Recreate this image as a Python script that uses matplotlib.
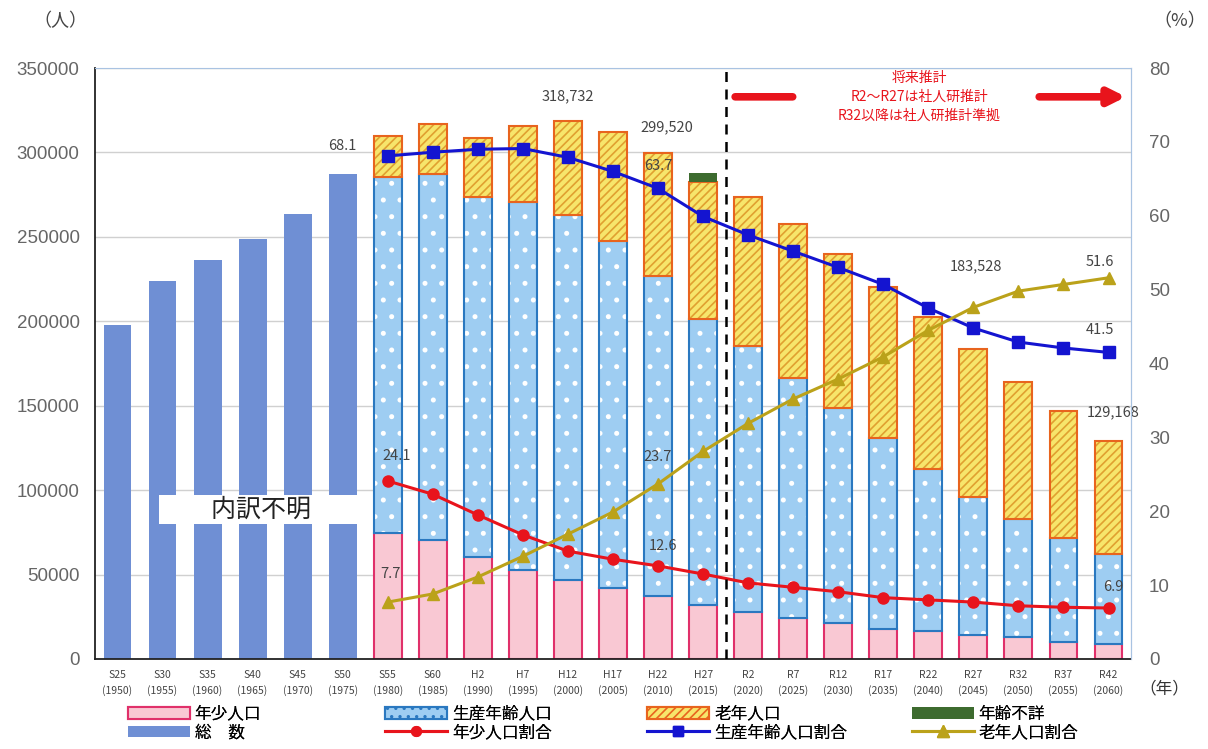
import numpy as np
import matplotlib.pyplot as plt
from matplotlib.lines import Line2D
from matplotlib.patches import Patch

plt.rcParams['font.family'] = ['Noto Sans CJK JP', 'DejaVu Sans']
plt.rcParams['hatch.linewidth'] = 1.2

# x categories
eras = ['S25', 'S30', 'S35', 'S40', 'S45', 'S50', 'S55', 'S60', 'H2', 'H7', 'H12',
        'H17', 'H22', 'H27', 'R2', 'R7', 'R12', 'R17', 'R22', 'R27', 'R32', 'R37', 'R42']
years = [1950, 1955, 1960, 1965, 1970, 1975, 1980, 1985, 1990, 1995, 2000,
         2005, 2010, 2015, 2020, 2025, 2030, 2035, 2040, 2045, 2050, 2055, 2060]

# total only (S25 - S50, breakdown unknown)
total_early = [198000, 223800, 236300, 248700, 263500, 287200]

# breakdown S55 - R42
youth = [74600, 70600, 60100, 52600, 46600, 42100, 37500, 31700, 27700,
         24300, 21300, 17800, 16600, 14200, 13000, 10100, 8900]
working = [211000, 216800, 213300, 218000, 216400, 205500, 189600, 169800, 157800,
           142100, 127300, 113100, 95900, 81700, 69900, 61600, 53300]
elderly = [24000, 29600, 34900, 45000, 55700, 64400, 72400, 81200, 88100,
           91200, 91200, 89400, 90000, 87600, 81100, 75200, 67000]
unknown = [0, 0, 0, 0, 0, 0, 0, 5300, 0, 0, 0, 0, 0, 0, 0, 0, 0]

# ratios (%)
youth_pct = [24.1, 22.3, 19.5, 16.8, 14.6, 13.5, 12.6, 11.5, 10.3,
             9.7, 9.1, 8.3, 8.0, 7.7, 7.2, 7.0, 6.9]
working_pct = [68.1, 68.6, 69.0, 69.1, 67.9, 66.0, 63.7, 59.9, 57.4,
               55.2, 53.0, 50.7, 47.5, 44.8, 42.9, 42.1, 41.5]
elderly_pct = [7.7, 8.8, 11.1, 13.9, 16.9, 19.9, 23.7, 28.1, 31.9,
               35.2, 37.9, 40.9, 44.5, 47.6, 49.8, 50.7, 51.6]

x = np.arange(len(eras))
x_early = x[:len(total_early)]
x_br = x[len(total_early):]
youth = np.array(youth)
working = np.array(working)
elderly = np.array(elderly)
unknown = np.array(unknown)

c_total = '#6f8fd4'
c_youth, e_youth = '#f9c8d3', '#e0306a'
c_work, e_work = '#9ecdf2', '#2a78c0'
c_eld, e_eld = '#f7e56b', '#e8641e'
c_unk = '#3d6b2f'
tick_font = dict(family='Liberation Sans', size=13.5)

fig = plt.figure(figsize=(12.08, 7.49), dpi=100)
ax = fig.add_axes([0.0786, 0.1202, 0.8577, 0.789])
w = 0.62

ax.bar(x_early, total_early, width=w, color=c_total, zorder=2)
ax.bar(x_br, youth, width=w, color=c_youth, edgecolor=e_youth, linewidth=1.5, zorder=2)
# working: white dotted hatch, then blue outline
ax.bar(x_br, working, bottom=youth, width=w, color=c_work, edgecolor='white',
       hatch='.', linewidth=0, zorder=2)
ax.bar(x_br, working, bottom=youth, width=w, fill=False, edgecolor=e_work,
       linewidth=1.5, zorder=2)
ax.bar(x_br, elderly, bottom=youth + working, width=w, color=c_eld, edgecolor='#e0a030',
       hatch='////', linewidth=0, zorder=2)
ax.bar(x_br, elderly, bottom=youth + working, width=w, fill=False, edgecolor=e_eld,
       linewidth=1.5, zorder=2)
ax.bar(x_br, unknown, bottom=youth + working + elderly, width=w, color=c_unk, zorder=2)

ax.set_xlim(-0.5, len(eras) - 0.5)
ax.set_ylim(0, 350000)
ax.set_yticks(np.arange(0, 350001, 50000))
ax.yaxis.grid(True, color='#d0d0d0', linewidth=1)
ax.set_axisbelow(True)
ax.set_xticks(x)
ax.set_xticklabels([f'{e}\n({y})' for e, y in zip(eras, years)], fontsize=7.5,
                   color='#444444', linespacing=1.6)
ax.tick_params(axis='x', length=0, pad=8)
ax.tick_params(axis='y', length=0, pad=11, labelcolor='#666666')
for t in ax.get_yticklabels():
    t.set_fontproperties(tick_font)
for s in ['left', 'bottom']:
    ax.spines[s].set_color('#222222')
    ax.spines[s].set_linewidth(1.3)
ax.spines['top'].set_color('#a9c3e2')
ax.spines['right'].set_color('#a9c3e2')

# ratio lines
ax2 = ax.twinx()
ax2.set_ylim(0, 80)
ax2.set_yticks(np.arange(0, 81, 10))
ax2.tick_params(axis='y', length=0, pad=13, labelcolor='#666666')
for t in ax2.get_yticklabels():
    t.set_fontproperties(tick_font)
for s in ax2.spines.values():
    s.set_visible(False)
ax2.spines['right'].set_visible(True)
ax2.spines['right'].set_color('#a9c3e2')

ax2.plot(x_br, youth_pct, color='#e8141c', marker='o', markersize=8, linewidth=2.2, zorder=4)
ax2.plot(x_br, working_pct, color='#1414d0', marker='s', markersize=8, linewidth=2.2, zorder=4)
ax2.plot(x_br, elderly_pct, color='#bba21a', marker='^', markersize=9, linewidth=2.2, zorder=4)

# projection separator
ax2.axvline(13.5, color='black', linestyle=(0, (4, 3)), linewidth=1.8, zorder=5)

# projection note
ax2.annotate('', xy=(15.05, 76.1), xytext=(13.65, 76.1),
             arrowprops=dict(arrowstyle='-', color='#e8141c', lw=5.5))
ax2.annotate('', xy=(22.45, 76.1), xytext=(20.4, 76.1),
             arrowprops=dict(arrowstyle='-|>', color='#e8141c', lw=5.5, mutation_scale=24))
ax2.text(17.8, 76.1, '将来推計\nR2～R27は社人研推計\nR32以降は社人研推計準拠', color='#e8141c',
         fontsize=10, ha='center', va='center', linespacing=1.45)

# value labels
lab = dict(fontsize=10.5, color='#444444', ha='center', va='center', zorder=6)
ax.text(10, 333000, '318,732', **lab)
ax.text(12.2, 315000, '299,520', **lab)
ax.text(19.05, 232500, '183,528', **lab)
ax.text(22.1, 146000, '129,168', **lab)
ax2.text(5.0, 69.5, '68.1', **lab)
ax2.text(12.0, 66.8, '63.7', **lab)
ax2.text(6.2, 27.5, '24.1', **lab)
ax2.text(12.0, 27.3, '23.7', **lab)
ax2.text(12.1, 15.3, '12.6', **lab)
ax2.text(6.05, 11.5, '7.7', **lab)
ax2.text(21.8, 53.7, '51.6', **lab)
ax2.text(21.8, 44.5, '41.5', **lab)
ax2.text(22.1, 9.8, '6.9', **lab)

ax.text(3.18, 88500, '\u3000\u3000内訳不明\u3000\u3000', fontsize=18, ha='center', va='center',
        zorder=6, color='#222222',
        bbox=dict(facecolor='white', edgecolor='none', boxstyle='square,pad=0.05'))

fig.text(0.05, 0.972, '（人）', fontsize=13, color='#444444', ha='center', va='center')
fig.text(0.977, 0.972, '（%）', fontsize=13, color='#444444', ha='center', va='center')
fig.text(0.964, 0.080, '（年）', fontsize=12, color='#333333', ha='center', va='center')

# legend: four columns placed separately
leg_cols = [
    [Patch(facecolor=c_youth, edgecolor=e_youth, linewidth=1.5, label='年少人口'),
     Patch(facecolor=c_total, label='総　数')],
    [Patch(facecolor=c_work, edgecolor=e_work, hatch='..', linewidth=1.5, label='生産年齢人口'),
     Line2D([], [], color='#e8141c', marker='o', linewidth=2.2, markersize=7, label='年少人口割合')],
    [Patch(facecolor=c_eld, edgecolor=e_eld, hatch='////', linewidth=1.5, label='老年人口'),
     Line2D([], [], color='#1414d0', marker='s', linewidth=2.2, markersize=7, label='生産年齢人口割合')],
    [Patch(facecolor=c_unk, label='年齢不詳'),
     Line2D([], [], color='#bba21a', marker='^', linewidth=2.2, markersize=8, label='老年人口割合')],
]
leg_x = [0.106, 0.319, 0.536, 0.755]
for hs, lx in zip(leg_cols, leg_x):
    leg = fig.legend(handles=hs, loc='upper left', bbox_to_anchor=(lx, 0.058),
                     frameon=False, fontsize=12, handlelength=3.7, handleheight=0.7,
                     labelspacing=0.1, handletextpad=0.3, borderpad=0, borderaxespad=0)
    fig.add_artist(leg)

fig.savefig('out.png', dpi=100)
